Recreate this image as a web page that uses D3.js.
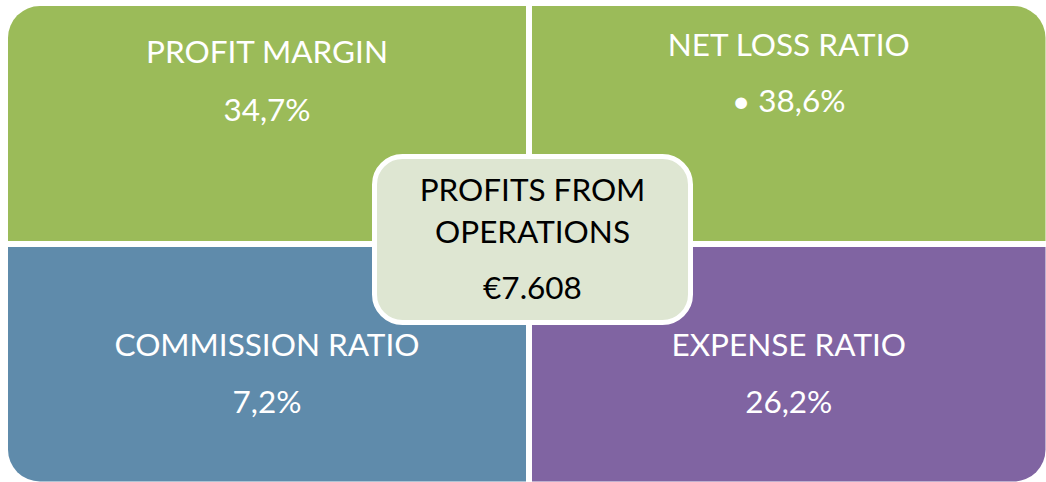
<!DOCTYPE html>
<html>
<head>
<meta charset="utf-8">
<script src="https://cdn.jsdelivr.net/npm/d3@7"></script>
<style>
  html, body { margin: 0; padding: 0; background: #fff; }
  svg { display: block; }
</style>
</head>
<body>
<div id="chart"></div>
<script>
// data
var titles = ['PROFIT MARGIN', 'NET LOSS RATIO', 'COMMISSION RATIO', 'EXPENSE RATIO'];
var values = ['34,7%', '\u2022 38,6%', '7,2%', '26,2%'];
var colors = ['#9bbb59', '#9bbb59', '#5f8bab', '#8064a2'];
var centerLines = ['PROFITS FROM', 'OPERATIONS'];
var centerValue = '\u20ac7.608';

var W = 1046, H = 482;
var R = 32; // outer corner radius
var fs = '31.5px';

// column / row scales: domain side 0..1, split where the white gutter sits
var sx = d3.scaleLinear().domain([0, 0.5, 1]).range([8, 529, 1045.5]);
var sy = d3.scaleLinear().domain([0, 0.5, 1]).range([6, 244, 481.5]);
var gut = 3;
function span(s, k) {
  return k == 0 ? [s(0), s(0.5) - gut] : [s(0.5) + gut, s(1)];
}

var svg = d3.select('#chart').append('svg')
  .attr('width', W).attr('height', H)
  .style('font-family', 'Lato, "Open Sans", sans-serif');

// rect with only one rounded corner: 0=tl 1=tr 2=bl 3=br
function cornerRect(ax, ay, bx, by, corner, r) {
  var p = d3.path();
  p.moveTo(ax + (corner == 0 ? r : 0), ay);
  if (corner == 1) { p.lineTo(bx - r, ay); p.arcTo(bx, ay, bx, ay + r, r); }
  else p.lineTo(bx, ay);
  if (corner == 3) { p.lineTo(bx, by - r); p.arcTo(bx, by, bx - r, by, r); }
  else p.lineTo(bx, by);
  if (corner == 2) { p.lineTo(ax + r, by); p.arcTo(ax, by, ax, by - r, r); }
  else p.lineTo(ax, by);
  if (corner == 0) { p.lineTo(ax, ay + r); p.arcTo(ax, ay, ax + r, ay, r); }
  else p.lineTo(ax, ay);
  p.closePath();
  return p.toString();
}

var cells = titles.map(function (t, i) {
  var c = i % 2, r = Math.floor(i / 2);
  return { title: t, value: values[i], color: colors[i], xs: span(sx, c), ys: span(sy, r), i: i };
});

var g = svg.selectAll('g.cell').data(cells).enter().append('g').attr('class', 'cell');

g.append('path')
  .attr('d', function (d) { return cornerRect(d.xs[0], d.ys[0], d.xs[1], d.ys[1], d.i, R); })
  .attr('fill', function (d) { return d.color; });

// text baselines (top right sits a bit higher than top left)
var titleY = [63, 56, 356, 356];
var valueY = [121, 112, 413, 413];
function midX(d) { return (d.xs[0] + d.xs[1]) / 2; }

g.append('text')
  .attr('x', midX)
  .attr('y', function (d) { return titleY[d.i]; })
  .attr('text-anchor', 'middle')
  .attr('fill', '#fff')
  .style('font-size', fs)
  .text(function (d) { return d.title; });

g.append('text')
  .attr('x', midX)
  .attr('y', function (d) { return valueY[d.i]; })
  .attr('text-anchor', 'middle')
  .attr('fill', '#fff')
  .style('font-size', fs)
  .text(function (d) { return d.value; });

// center box
var bx = 372, by = 154, bw = 321, bh = 171;
var center = svg.append('g');
center.append('rect')
  .attr('x', bx + 2.5).attr('y', by + 2.5)
  .attr('width', bw - 5).attr('height', bh - 5)
  .attr('rx', 28).attr('ry', 28)
  .attr('fill', '#dee6d2')
  .attr('stroke', '#fff').attr('stroke-width', 5);

center.selectAll('text.line').data(centerLines).enter().append('text')
  .attr('class', 'line')
  .attr('x', bx + bw / 2)
  .attr('y', function (d, i) { return 201 + i * 42; })
  .attr('text-anchor', 'middle')
  .attr('fill', '#000')
  .style('font-size', fs)
  .text(function (d) { return d; });

center.append('text')
  .attr('x', bx + bw / 2)
  .attr('y', 299)
  .attr('text-anchor', 'middle')
  .attr('fill', '#000')
  .style('font-size', fs)
  .text(centerValue);
</script>
</body>
</html>
